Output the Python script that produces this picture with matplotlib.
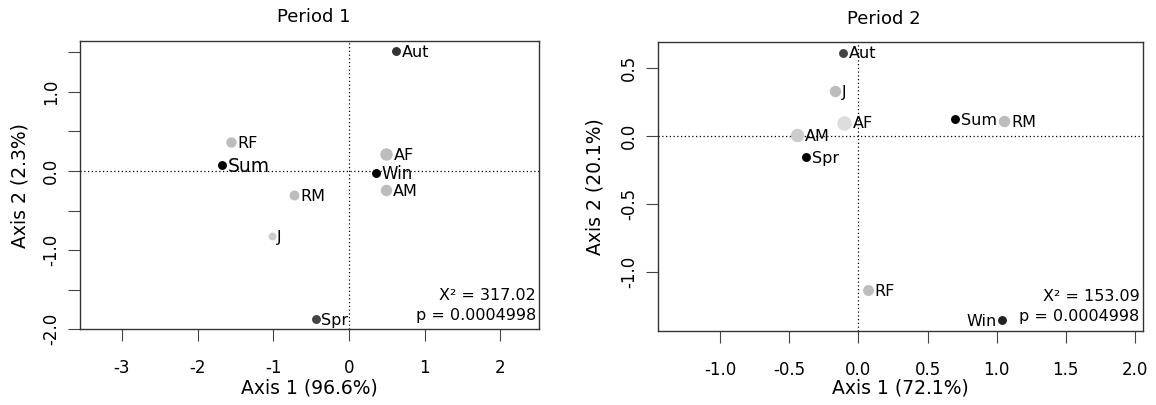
import matplotlib
matplotlib.use("Agg")
import matplotlib.pyplot as plt

# --- dados ---
labels_p1 = ["Aut", "RF", "Sum", "AF", "Win", "AM", "RM", "J", "Spr"]
x_p1 = [0.62, -1.556, -1.68, 0.49, 0.36, 0.49, -0.73, -1.02, -0.44]
y_p1 = [1.515, 0.36, 0.075, 0.21, -0.025, -0.24, -0.30, -0.82, -1.87]

labels_p2 = ["Aut", "J", "AF", "AM", "Spr", "Sum", "RM", "RF", "Win"]
x_p2 = [-0.115, -0.168, -0.104, -0.445, -0.379, 0.699, 1.053, 0.069, 1.04]
y_p2 = [0.61, 0.33, 0.096, 0.005, -0.154, 0.12, 0.108, -1.13, -1.35]

xticks_p1 = [-3, -2, -1, 0, 1, 2]
yticks_p1 = [-2.0, -1.5, -1.0, -0.5, 0.0, 0.5, 1.0, 1.5]
ytick_labels_p1 = ["-2.0", "", "-1.0", "", "0.0", "", "1.0", ""]
xticks_p2 = [-1.0, -0.5, 0.0, 0.5, 1.0, 1.5, 2.0]
yticks_p2 = [-1.0, -0.5, 0.0, 0.5]

stats_p1 = ["X\u00b2 = 317.02", "p = 0.0004998"]
stats_p2 = ["X\u00b2 = 153.09", "p = 0.0004998"]

# --- estilo (cor, tamanho do ponto em px, lado do rótulo, tamanho da fonte) ---
style_p1 = {
    "Aut": ("#333333", 7.5, "right", 11.5),
    "RF": ("#bdbdbd", 9, "right", 11.5),
    "Sum": ("#000000", 7.5, "right", 13.5),
    "AF": ("#bdbdbd", 11, "right", 11.5),
    "Win": ("#000000", 7.5, "right", 12),
    "AM": ("#bdbdbd", 10, "right", 11.5),
    "RM": ("#bdbdbd", 8.5, "right", 11.5),
    "J": ("#cccccc", 6.5, "right", 11.5),
    "Spr": ("#444444", 7.5, "right", 11.5),
}
style_p2 = {
    "Aut": ("#444444", 7.5, "right", 11.5),
    "J": ("#bdbdbd", 10, "right", 11.5),
    "AF": ("#dddddd", 13, "right", 11.5),
    "AM": ("#cccccc", 12, "right", 11.5),
    "Spr": ("#000000", 7.5, "right", 11.5),
    "Sum": ("#000000", 7.5, "right", 11.5),
    "RM": ("#bdbdbd", 10, "right", 11.5),
    "RF": ("#bdbdbd", 9.5, "right", 11.5),
    "Win": ("#222222", 7.5, "left", 11.5),
}

PX = 0.72  # pontos por pixel a 100 dpi
plt.rcParams["font.family"] = ["DejaVu Sans"]

fig = plt.figure(figsize=(11.56, 4.05), dpi=100)
ax1 = fig.add_axes([0.0689, 0.1869, 0.3971, 0.7119])
ax2 = fig.add_axes([0.5689, 0.1835, 0.4195, 0.7121])


def draw_panel(ax, labels, xs, ys, style, xlim, ylim, xticks, yticks, ylabels,
               title, title_x, xlabel, ylabel, stats, xl_y, yl_x):
    ax.axhline(0, color="black", lw=0.9, ls=(0, (1, 2)), zorder=1)
    ax.axvline(0, color="black", lw=0.9, ls=(0, (1, 2)), zorder=1)
    for lab, x, y in zip(labels, xs, ys):
        col, size, side, fs = style[lab]
        ax.plot(x, y, "o", ms=size * PX, color=col, mec=col, zorder=3)
        off = size * PX / 2 + 1.5
        if side == "right":
            ax.annotate(lab, (x, y), xytext=(off, -1), textcoords="offset points",
                        ha="left", va="center", fontsize=fs, zorder=4)
        else:
            ax.annotate(lab, (x, y), xytext=(-off, -1), textcoords="offset points",
                        ha="right", va="center", fontsize=fs, zorder=4)

    ax.set_xlim(*xlim)
    ax.set_ylim(*ylim)
    ax.set_xticks(xticks)
    ax.set_xticklabels([("%g" % t) if isinstance(t, int) else "%.1f" % t for t in xticks])
    ax.set_yticks(yticks)
    ax.set_yticklabels(ylabels, rotation=90, va="center")
    ax.tick_params(axis="x", length=8.5, width=0.8, color="#444444", labelsize=12, pad=13)
    ax.tick_params(axis="y", length=8.5, width=0.8, color="#444444", labelsize=12, pad=5.5)
    for sp in ax.spines.values():
        sp.set_color("#333333")
        sp.set_linewidth(1.0)

    ax.set_xlabel(xlabel, fontsize=13.5)
    ax.xaxis.set_label_coords(0.5, xl_y)
    ax.xaxis.label.set_va("center")
    ax.set_ylabel(ylabel, fontsize=13.5)
    ax.yaxis.set_label_coords(yl_x, 0.5)
    ax.yaxis.label.set_va("center")

    ax.text(title_x, 1.082, title, transform=ax.transAxes, ha="center", va="center", fontsize=13)
    ax.text(0.994, 0.117, stats[0], transform=ax.transAxes, ha="right", va="center", fontsize=11.5)
    ax.text(0.994, 0.048, stats[1], transform=ax.transAxes, ha="right", va="center", fontsize=11.5)


draw_panel(ax1, labels_p1, x_p1, y_p1, style_p1, (-3.56, 2.51), (-2.0, 1.642),
           xticks_p1, yticks_p1, ytick_labels_p1, "Period 1", 0.51,
           "Axis 1 (96.6%)", "Axis 2 (2.3%)", stats_p1, -0.204, -0.129)
draw_panel(ax2, labels_p2, x_p2, y_p2, style_p2, (-1.453, 2.056), (-1.43, 0.685),
           xticks_p2, yticks_p2, ["%.1f" % t for t in yticks_p2], "Period 2", 0.466,
           "Axis 1 (72.1%)", "Axis 2 (20.1%)", stats_p2, -0.199, -0.130)

fig.savefig("out.png", dpi=100)
